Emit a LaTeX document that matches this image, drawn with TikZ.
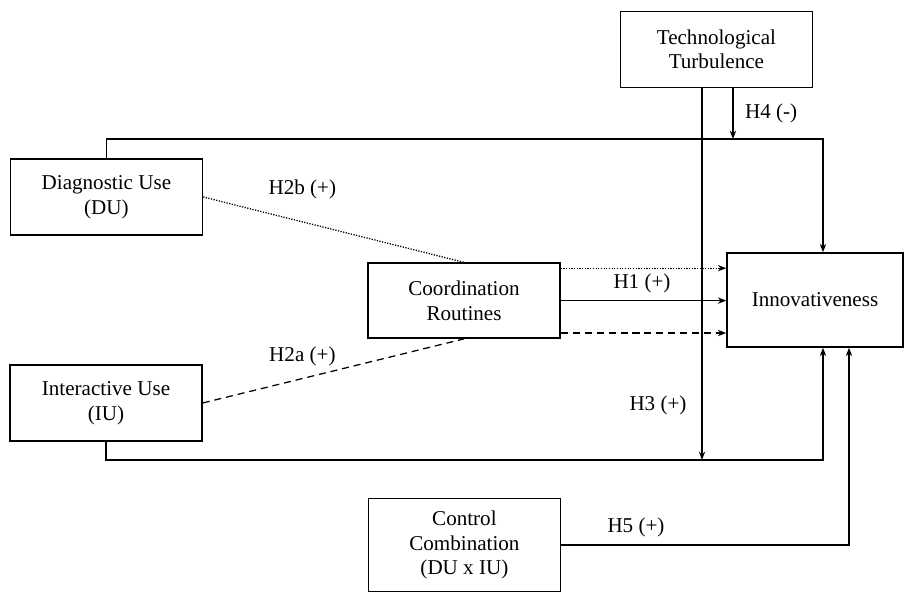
\documentclass[tikz,border=0pt]{standalone}
\usepackage{fontspec}
\setmainfont{Liberation Serif}
\usetikzlibrary{arrows.meta}

\begin{document}
\begin{tikzpicture}[
    box/.style={draw, line width=1.1pt, minimum width=4.8cm, minimum height=1.9cm, align=center, font=\fontsize{15}{17.5}\selectfont},
    arr/.style={-{Stealth[length=6pt,width=4.5pt]}, line width=0.9pt},
    lab/.style={font=\fontsize{15}{17.5}\selectfont}
  ]
    \useasboundingbox (0,0) rectangle (22.65,14.825);

    \node[box] (tt) at (17.91,13.59) {Technological\\Turbulence};
    \node[box] (du) at (2.66,9.9) {Diagnostic Use\\(DU)};
    \node[box] (iu) at (2.65,4.75) {Interactive Use\\(IU)};
    \node[box, minimum height=1.875cm] (cr) at (11.6,7.31) {Coordination\\Routines};
    \node[box, minimum width=4.4cm, minimum height=2.35cm] (inn) at (20.375,7.325) {Innovativeness};
    \node[box, minimum height=2.325cm] (cc) at (11.61,1.2) {Control\\Combination\\(DU x IU)};

    \coordinate (top) at (20.575,11.35);
    \coordinate (bot) at (20.575,3.325);
    \coordinate (h4) at (18.325,11.35);
    \coordinate (h3) at (17.55,3.325);

    \draw[arr] (du.north) |- (top) to (top |- inn.north);
    \draw[arr] (tt.south -| h4) to (h4);
    \draw[arr] (tt.south -| h3) to (h3);
    \draw[arr] (iu.south) |- (bot) to (bot |- inn.south);
    \draw[arr] (cc.east) -| ([xshift=0.85cm]inn.south);

    \draw[line width=0.9pt, densely dotted] (du.east) to (cr.north);
    \draw[arr, densely dotted] ([yshift=0.81cm]cr.east) to ([yshift=0.81cm]cr.east -| inn.west);
    \draw[arr] (cr.east) to (cr.east -| inn.west);
    \draw[line width=0.9pt, dash pattern=on 5pt off 3.5pt] (iu.east) to (cr.south);
    \draw[arr, dash pattern=on 5pt off 3.5pt] ([yshift=-0.81cm]cr.east) to ([yshift=-0.81cm]cr.east -| inn.west);

    \node[lab] (l2b) at (7.56,10.1) {H2b (+)};
    \node[lab] (l2a) at (7.56,5.92) {H2a (+)};
    \node[lab] (l1) at (16.05,7.75) {H1 (+)};
    \node[lab] (l4) at (19.28,12.0) {H4 (-)};
    \node[lab] (l3) at (16.45,4.7) {H3 (+)};
    \node[lab] (l5) at (15.9,1.65) {H5 (+)};
\end{tikzpicture}
\end{document}
